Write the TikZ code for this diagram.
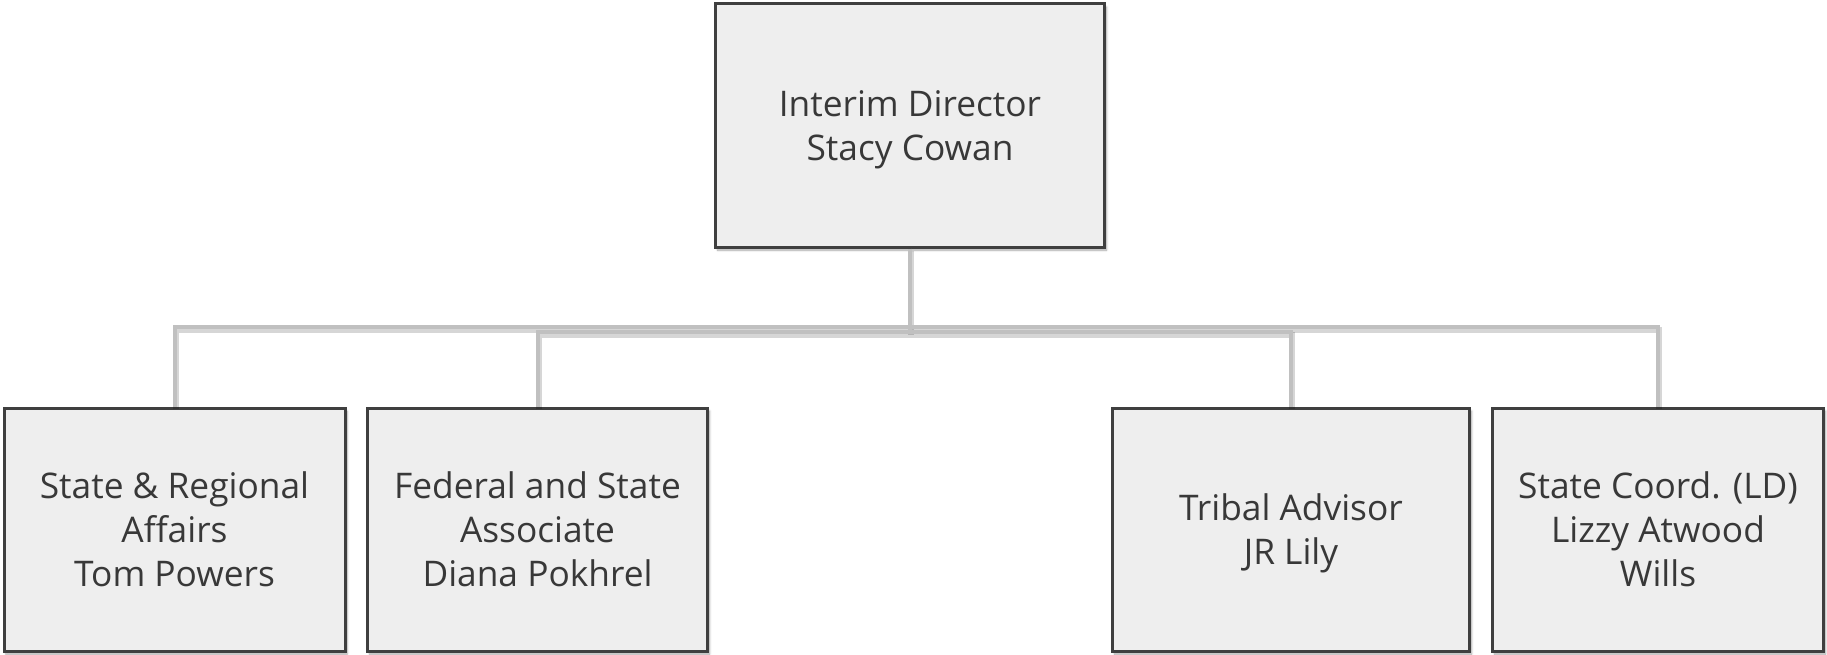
\documentclass[tikz,border=0pt]{standalone}
\usepackage{fontspec}
\setmainfont{Open Sans}
\usetikzlibrary{shadows.blur}
\definecolor{boxfill}{HTML}{EEEEEE}
\definecolor{boxdraw}{HTML}{3F3F3F}
\definecolor{txt}{HTML}{383838}
\definecolor{conn}{HTML}{C0C0C0}
\begin{document}
\begin{tikzpicture}[x=1pt,y=-1pt,
  orgbox/.style={draw=boxdraw,fill=boxfill,line width=3pt,
    text=txt,align=center,inner sep=0pt,text depth=0pt,
    font=\fontsize{35.3}{44}\selectfont,
    blur shadow={shadow xshift=2pt,shadow yshift=-3pt,shadow blur steps=6,shadow opacity=35}},
  connline/.style={draw=conn,line width=4pt},
  connshadow/.style={draw=black,opacity=0.16,line width=6pt,transform canvas={xshift=1pt,yshift=-2.5pt}}]
\useasboundingbox (0,0) rectangle (1827,655);
\coordinate (j) at (910,332);
\coordinate (k) at (910,327);
\node[orgbox,minimum width=389pt,minimum height=243pt] (top) at (910,125.5) {Interim Director\\Stacy Cowan};
\node[orgbox,minimum width=341pt,minimum height=243pt] (b1) at (174.5,529.5) {State \& Regional\\Affairs\\Tom Powers};
\node[orgbox,minimum width=340pt,minimum height=243pt] (b2) at (537.5,529.5) {Federal and State\\Associate\\Diana Pokhrel};
\node[orgbox,minimum width=357pt,minimum height=243pt] (b3) at (1291,529.5) {Tribal Advisor\\JR Lily};
\node[orgbox,minimum width=331pt,minimum height=243pt] (b4) at (1658,529.5) {State Coord. (LD)\\Lizzy Atwood\\Wills};
% connector shadows
\draw[connshadow] (b1.north) |- (k) -| (b4.north);
\draw[connshadow] (b2.north) |- (j) -| (b3.north);
\draw[connshadow] (top.south) -- (j);
% connectors
\draw[connline] (b1.north) |- (k) -| (b4.north);
\draw[connline] (b2.north) |- (j) -| (b3.north);
\draw[connline] (top.south) -- (j);
\end{tikzpicture}
\end{document}
